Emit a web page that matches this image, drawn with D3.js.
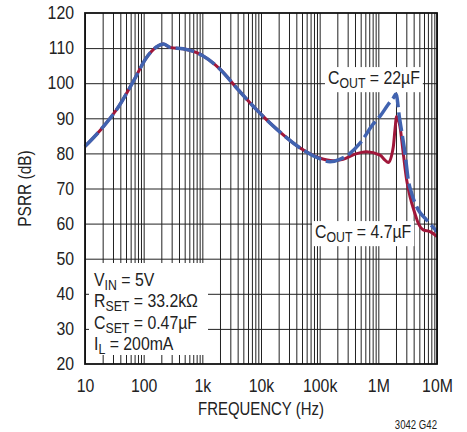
<!DOCTYPE html>
<html>
<head>
<meta charset="utf-8">
<script src="https://cdn.jsdelivr.net/npm/d3@7"></script>
<style>
  body { margin: 0; background: #fff; }
  #chart text { font-family: 'Liberation Sans', Arial, sans-serif; fill: #222; }
</style>
</head>
<body>
<div id="chart"></div>
<script>
// ---- data ----
const xTickValues = [10, 100, 1e3, 1e4, 1e5, 1e6, 1e7];
const xTickLabels = ["10", "100", "1k", "10k", "100k", "1M", "10M"];
const yTickValues = [20, 30, 40, 50, 60, 70, 80, 90, 100, 110, 120];

// COUT = 4.7uF (red, solid)
const cout47Freq = [10, 20, 38, 67, 113, 167, 216, 281, 470, 801, 1000, 2000, 4100, 8440, 18500, 43200,
  100e3, 170e3, 250e3, 400e3, 630e3, 1.07e6, 1.3e6, 1.48e6, 1.8e6, 1.92e6, 2.05e6, 2.34e6,
  2.66e6, 3.04e6, 3.47e6, 4.2e6, 4.8e6, 5.84e6, 7.6e6, 10e6];
const cout47Db = [82, 87.4, 93.5, 100.6, 107.4, 110.4, 111.2, 110.2, 109.8, 108.7, 107.9, 104, 98.1, 92.4, 86.9, 81.9,
  78.7, 77.9, 78.3, 79.8, 80.5, 79.5, 78.1, 77.4, 81.9, 86.7, 90.5, 87.6,
  80.0, 72.4, 67.7, 62.9, 60.1, 58.2, 57.7, 56.3];

// COUT = 22uF (blue, dashed)
const cout22Freq = [10, 20, 38, 67, 113, 167, 216, 281, 470, 801, 1000, 2000, 4100, 8440, 18500, 43200,
  100e3, 150e3, 220e3, 329e3, 487e3, 820e3, 1.07e6, 1.48e6, 1.8e6, 2.0e6, 2.3e6,
  2.85e6, 3.24e6, 3.7e6, 4.8e6, 6.67e6, 10e6];
const cout22Db = [82, 87.4, 93.5, 100.6, 107.4, 110.4, 111.2, 110.2, 109.8, 108.7, 107.9, 104, 98.1, 92.4, 86.9, 81.9,
  78.5, 77.6, 78.3, 80.0, 82.9, 88.4, 90.6, 94.0, 95.8, 96.9, 90.0,
  80.0, 72.4, 68.6, 63.9, 61.0, 57.7];

// ---- layout ----
const W = 467, H = 432;
const M = { top: 13, right: 30, bottom: 68, left: 85 };
const iW = W - M.left - M.right;
const iH = H - M.top - M.bottom;
const RED = "#a0173a", BLUE = "#4163b0", INK = "#222";
const K = 0.88;   // horizontal squeeze, the original uses a condensed face

// squeeze a text around its own x anchor
const narrow = (k = K) => sel => {
  sel.each(function() {
    const x0 = +this.getAttribute("x") || 0;
    const prev = this.getAttribute("transform") || "";
    d3.select(this).attr("transform", `${prev} translate(${x0 * (1 - k)},0) scale(${k},1)`);
  });
};

const svg = d3.select("#chart").append("svg")
  .attr("width", W).attr("height", H)
  .attr("viewBox", `0 0 ${W} ${H}`);
const g = svg.append("g").attr("transform", `translate(${M.left},${M.top})`);

const x = d3.scaleLog().domain([10, 1e7]).range([0, iW]);
const y = d3.scaleLinear().domain([20, 120]).range([iH, 0]);

// Gridlines
g.append("g").attr("transform", `translate(0,${iH})`)
  .call(d3.axisBottom(x).ticks(10).tickSize(-iH).tickFormat(""))
  .call(g => g.select(".domain").remove())
  .call(g => g.selectAll(".tick line").attr("stroke", INK).attr("stroke-width", 1));

g.append("g")
  .call(d3.axisLeft(y).tickValues(yTickValues.slice(1, -1)).tickSize(-iW).tickFormat(""))
  .call(g => g.select(".domain").remove())
  .call(g => g.selectAll(".tick line").attr("stroke", INK).attr("stroke-width", 1));

// Curves
const line = (fs, ds) => d3.line()
  .x((d, i) => x(fs[i])).y(d => y(d))
  .curve(d3.curveMonotoneX)(ds);

g.append("path").attr("d", line(cout47Freq, cout47Db))
  .attr("fill", "none").attr("stroke", RED).attr("stroke-width", 3);

g.append("path").attr("d", line(cout22Freq, cout22Db))
  .attr("fill", "none").attr("stroke", BLUE).attr("stroke-width", 3.5)
  .attr("stroke-dasharray", "19,5");

// Frame
g.append("rect").attr("width", iW).attr("height", iH)
  .attr("fill", "none").attr("stroke", "#111").attr("stroke-width", 1.8);

// Labels with sub-scripts
function richText(parent, px, py, parts) {
  const t = parent.append("text").attr("x", px).attr("y", py).attr("font-size", 18);
  parts.forEach((p, i) => {
    const sp = t.append("tspan").text(p);
    if (i === 1) sp.attr("font-size", 14).attr("dy", 4);
    if (i === 2) sp.attr("dy", -4);
  });
  t.call(narrow());
  return t;
}

function boxedLabel(px, py, parts) {
  const grp = g.append("g");
  const bg = grp.append("rect").attr("fill", "#fff");
  const t = richText(grp, px, py, parts);
  const b = t.node().getBBox();
  const bx = px * (1 - K) + K * b.x;
  bg.attr("x", bx - 3).attr("y", b.y - 1).attr("width", b.width * K + 6).attr("height", b.height + 2);
}

boxedLabel(243, 71, ["C", "OUT", " = 22µF"]);
boxedLabel(230, 225, ["C", "OUT", " = 4.7µF"]);

// Conditions box (lower left)
const cond = g.append("g");
cond.append("rect").attr("x", 4).attr("y", 250).attr("width", 119).attr("height", 92).attr("fill", "#fff");
[["V", "IN", " = 5V"], ["R", "SET", " = 33.2kΩ"], ["C", "SET", " = 0.47µF"], ["I", "L", " = 200mA"]]
  .forEach((parts, i) => richText(cond, 9, 273 + i * 21.3, parts));

// Axes labels
g.append("g").attr("transform", `translate(0,${iH})`)
  .call(d3.axisBottom(x).tickValues(xTickValues).tickFormat((d, i) => xTickLabels[i]).tickSize(0))
  .call(g => g.select(".domain").remove())
  .call(g => g.selectAll("text").attr("font-size", 18).attr("dy", "1.4em").call(narrow()));

g.append("g")
  .call(d3.axisLeft(y).tickValues(yTickValues).tickSize(0).tickPadding(11))
  .call(g => g.select(".domain").remove())
  .call(g => g.selectAll("text").attr("font-size", 18).call(narrow()));

svg.append("text").attr("x", M.left + iW / 2).attr("y", 415)
  .attr("text-anchor", "middle").attr("font-size", 18).text("FREQUENCY (Hz)").call(narrow(0.83));

svg.append("text").attr("transform", `translate(31,${M.top + iH / 2}) rotate(-90)`)
  .attr("text-anchor", "middle").attr("font-size", 18).text("PSRR (dB)").call(narrow(0.86));

svg.append("text").attr("x", M.left + iW).attr("y", 429)
  .attr("text-anchor", "end").attr("font-size", 12).text("3042 G42").call(narrow(0.8));
</script>
</body>
</html>
